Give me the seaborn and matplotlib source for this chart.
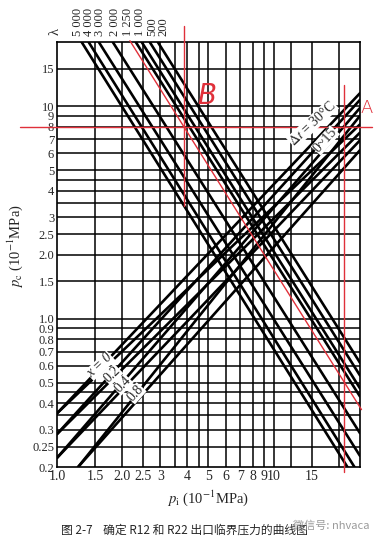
import matplotlib
matplotlib.use("Agg")
import matplotlib.pyplot as plt
import seaborn as sns
import numpy as np

sns.set_theme(style="white")
plt.rcParams['font.family'] = ['Liberation Serif', 'Noto Sans CJK SC', 'DejaVu Sans']
plt.rcParams['mathtext.fontset'] = 'stix'

# ---- axis ticks / grid ----
x_ticks = [1.0, 1.5, 2.0, 2.5, 3, 4, 5, 6, 7, 8, 9, 10, 15]
x_tick_labels = ["1.0", "1.5", "2.0", "2.5", "3", "4", "5", "6", "7", "8", "9", "10", "15"]
x_grid = [1.5, 2.0, 2.5, 3, 3.5, 4, 4.5, 5, 6, 7, 8, 9, 10, 12, 15, 20]
y_ticks = [15, 10, 9, 8, 7, 6, 5, 4, 3, 2.5, 2.0, 1.5, 1.0, 0.9, 0.8, 0.7, 0.6, 0.5, 0.4, 0.3, 0.25, 0.2]
y_tick_labels = ["15", "10", "9", "8", "7", "6", "5", "4", "3", "2.5", "2.0", "1.5", "1.0",
                 "0.9", "0.8", "0.7", "0.6", "0.5", "0.4", "0.3", "0.25", "0.2"]
y_grid = [0.25, 0.3, 0.35, 0.4, 0.45, 0.5, 0.6, 0.7, 0.8, 0.9, 1.0, 1.5, 2.0, 2.5, 3, 3.5,
          4, 4.5, 5, 6, 7, 8, 9, 10, 15]

# ---- descending family: lambda ----
lam_labels = ["5 000", "4 000", "3 000", "2 000", "1 250", "1 000", "500", "200"]
lam_x0 = [1.30, 1.40, 1.56, 1.81, 2.31, 2.46, 2.68, 2.92]
lam_y0 = [20, 20, 20, 20, 20, 20, 20, 20]
lam_x1 = [21.9, 23.6, 25, 25, 25, 25, 25, 25]
lam_y1 = [0.2, 0.2, 0.226, 0.289, 0.43, 0.47, 0.54, 0.62]

# ---- ascending family: dryness x, two temperature groups ----
x_labels = ["x = 0", "0.2", "0.4", "0.8"]
asc_x0 = [1.0, 1.0, 1.0, 1.25]
asc_y0 = [0.358, 0.286, 0.221, 0.2]
dt30_y1 = [11.5, 10.7, 9.8, 9.0]
dt15_y1 = [8.2, 7.5, 6.9, 6.2]
asc_x1 = [25, 25, 25, 25]

# ---- red annotation lines ----
red_diag_x = [2.17, 25.4]
red_diag_y = [20.3, 0.373]
red_A_x = 21.0
red_A_y = [12.5, 0.19]
red_B_x = 3.85
red_B_y = [23.8, 3.4]
red_h_y = 8.0
red_h_x = [0.675, 28.3]

fig = plt.figure(figsize=(3.85, 5.47), dpi=100)
ax = fig.add_axes([0.148, 0.146, 0.787, 0.777])
ax.set_xscale("log")
ax.set_yscale("log")
ax.set_xlim(1.0, 25)
ax.set_ylim(0.2, 20)

for g in x_grid:
    ax.axvline(g, color="black", lw=1.1, zorder=1)
for g in y_grid:
    ax.axhline(g, color="black", lw=1.1, zorder=1)

for i in range(len(lam_x0)):
    sns.lineplot(x=[lam_x0[i], lam_x1[i]], y=[lam_y0[i], lam_y1[i]], ax=ax,
                 color="black", lw=1.9, zorder=3)
for i in range(len(asc_x0)):
    sns.lineplot(x=[asc_x0[i], asc_x1[i]], y=[asc_y0[i], dt30_y1[i]], ax=ax,
                 color="black", lw=1.9, zorder=3)
    sns.lineplot(x=[asc_x0[i], asc_x1[i]], y=[asc_y0[i], dt15_y1[i]], ax=ax,
                 color="black", lw=1.9, zorder=3)

red = "#e0303a"
ax.plot(red_diag_x, red_diag_y, color=red, lw=1.0, zorder=4, clip_on=False)
ax.plot([red_A_x, red_A_x], red_A_y, color=red, lw=1.0, zorder=4, clip_on=False)
ax.plot([red_B_x, red_B_x], red_B_y, color=red, lw=1.0, zorder=4, clip_on=False)
ax.plot(red_h_x, [red_h_y, red_h_y], color=red, lw=1.0, zorder=4, clip_on=False)
ax.text(26.8, 9.8, "A", color=red, fontsize=13, ha="center", va="center",
        family="DejaVu Sans", fontweight="light", clip_on=False)
ax.text(4.9, 11.2, "B", color=red, fontsize=20, ha="center", va="center",
        family="DejaVu Sans", fontweight="light", style="italic")

for s in ax.spines.values():
    s.set_color("black")
    s.set_linewidth(1.2)

ax.set_xticks(x_ticks)
ax.set_xticklabels(x_tick_labels, fontsize=10)
ax.set_yticks(y_ticks)
ax.set_yticklabels(y_tick_labels, fontsize=9)
ax.minorticks_off()
ax.tick_params(length=0, pad=2)

ax.set_xlabel(r"$p_{\mathrm{i}}$ (10$^{-1}$MPa)", fontsize=10.5, labelpad=4)
ax.set_ylabel(r"$p_{\mathrm{c}}$ (10$^{-1}$MPa)", fontsize=10.5)
ax.yaxis.set_label_coords(-0.105, 0.52)

# lambda labels at top (label anchor positions along the top edge)
lam_label_pos = [1.25, 1.40, 1.58, 1.85, 2.12, 2.41, 2.74, 3.11]
ax.text(0.985, 21.5, "λ", rotation=90, fontsize=10.5, ha="center", va="bottom", clip_on=False)
for i, lab in enumerate(lam_labels):
    ax.text(lam_label_pos[i], 21.3, lab, rotation=90, fontsize=9, ha="center", va="bottom",
            clip_on=False)

# inline labels on ascending lines
bb = dict(facecolor="white", edgecolor="none", pad=0.2)
lab_x = [1.58, 1.80, 2.01, 2.31]
lab_y = [0.60, 0.545, 0.49, 0.445]
lab_rot = [43, 44, 46, 48]
for i in range(4):
    ax.text(lab_x[i], lab_y[i], x_labels[i], rotation=lab_rot[i], fontsize=10, ha="center",
            va="center", bbox=bb, zorder=5, style="italic" if i == 0 else "normal")
ax.text(15.1, 8.3, r"$\Delta t$ = 30°C", rotation=43, fontsize=10, ha="center", va="center",
        bbox=bb, zorder=5)
ax.text(17.3, 6.9, "0~15", rotation=48, fontsize=10, ha="center", va="center", bbox=bb, zorder=5)

fig.text(0.48, 0.031, "图 2-7    确定 R12 和 R22 出口临界压力的曲线图", fontsize=8.5,
         ha="center", va="center", family=["Noto Sans CJK SC", "DejaVu Sans"])
fig.text(0.86, 0.038, "微信号: nhvaca", fontsize=8, color="#9a9a9a", ha="center", va="center",
         family=["Noto Sans CJK SC", "DejaVu Sans"])

fig.savefig("out.png", dpi=100)
